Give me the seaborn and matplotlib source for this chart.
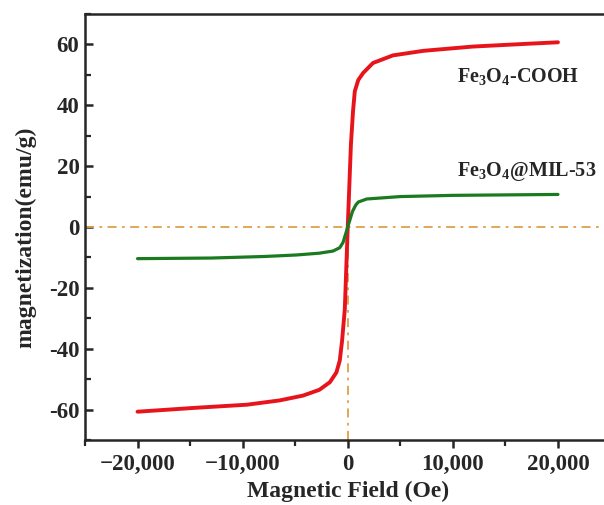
import numpy as np
import pandas as pd
import matplotlib
matplotlib.use("Agg")
import matplotlib.pyplot as plt
import seaborn as sns
from matplotlib.ticker import MultipleLocator, FuncFormatter

# ---- data ----
cooh_field = [-20000, -14400, -9600, -6500, -4250, -2700, -1700, -1080, -760, -540, -280, 0,
              300, 500, 670, 1000, 1460, 2400, 4300, 7200, 11900, 17000, 20000]
cooh_mag = [-60.7, -59.4, -58.4, -57.0, -55.4, -53.5, -51.0, -47.8, -43.9, -37.4, -27.0, 0.0,
            27.0, 38.0, 44.6, 48.3, 50.6, 53.9, 56.4, 57.9, 59.3, 60.2, 60.7]
mil_field = [-20000, -13000, -8000, -4900, -2700, -1400, -760, -450, 0,
             450, 760, 1000, 1800, 5000, 10000, 20000]
mil_mag = [-10.4, -10.2, -9.7, -9.2, -8.6, -7.9, -6.8, -5.1, 0.0,
           5.1, 7.2, 8.2, 9.2, 10.0, 10.4, 10.7]
series_names = ["Fe$_3$O$_4$-COOH", "Fe$_3$O$_4$@MIL-53"]
series_colors = ["#e8141c", "#1b7a1f"]
label_pos = [(10400, 49.5), (10400, 18.4)]
x_ticks = [-20000, -10000, 0, 10000, 20000]
y_ticks = [-60, -40, -20, 0, 20, 40, 60]

sns.set_style("ticks")
plt.rcParams['font.family'] = ['Liberation Serif', 'DejaVu Serif']
plt.rcParams['font.weight'] = 'bold'
plt.rcParams['mathtext.fontset'] = 'custom'
plt.rcParams['mathtext.rm'] = 'Liberation Serif:bold'
plt.rcParams['mathtext.it'] = 'Liberation Serif:bold'
plt.rcParams['mathtext.bf'] = 'Liberation Serif:bold'

df = pd.concat([
    pd.DataFrame({"field": cooh_field, "mag": cooh_mag, "sample": series_names[0]}),
    pd.DataFrame({"field": mil_field, "mag": mil_mag, "sample": series_names[1]}),
])

fig = plt.figure(figsize=(6.04, 5.05), dpi=100)
ax = fig.add_axes([85/604, 1-440/505, (610.5-85)/604, (440-14)/505])

ax.axhline(0, color="#e0a04a", lw=1.3, ls=(0, (5, 3, 1.5, 3)), zorder=1)
ax.vlines(0, -70, 0, color="#e0a04a", lw=1.3, ls=(0, (5, 3, 1.5, 3)), zorder=1)

sns.lineplot(data=df, x="field", y="mag", hue="sample", palette=series_colors,
             hue_order=series_names, sort=True, estimator=None, legend=False,
             ax=ax, lw=2.4, zorder=3)
for line, lw in zip(ax.get_lines()[-2:], [2.8, 2.3]):
    line.set_linewidth(lw)
    line.set_solid_joinstyle('round')

for name, (tx, ty) in zip(series_names, label_pos):
    ax.text(tx, ty, name, fontsize=14.5, fontweight='bold', va='center', ha='left')

ax.set_xlim(-25000, 25000)
ax.set_ylim(-70, 70)
ax.set_xticks(x_ticks)
ax.set_yticks(y_ticks)
ax.xaxis.set_minor_locator(MultipleLocator(5000))
ax.yaxis.set_minor_locator(MultipleLocator(10))
ax.xaxis.set_major_formatter(FuncFormatter(lambda v, p: f"{v:,.0f}".replace("-", "\u2212")))
ax.yaxis.set_major_formatter(FuncFormatter(lambda v, p: f"{int(v)}"))
ax.tick_params(axis='x', which='major', direction='out', length=6, width=1.8, labelsize=16.5, pad=4)
ax.tick_params(axis='x', which='minor', direction='out', length=4, width=1.6)
ax.tick_params(axis='y', which='major', direction='in', length=6, width=1.8, labelsize=16.5, pad=4)
ax.tick_params(axis='y', which='minor', direction='in', length=4, width=1.6)
for lab in ax.get_xticklabels() + ax.get_yticklabels():
    lab.set_fontweight('bold')
for s in ax.spines.values():
    s.set_linewidth(1.8)
    s.set_visible(True)

ax.set_xlabel("Magnetic Field (Oe)", fontsize=17, fontweight='bold', labelpad=4)
ax.set_ylabel("magnetization(emu/g)", fontsize=17, fontweight='bold')
ax.yaxis.set_label_coords(-0.092, 0.475)

fig.savefig("out.png", dpi=100)
